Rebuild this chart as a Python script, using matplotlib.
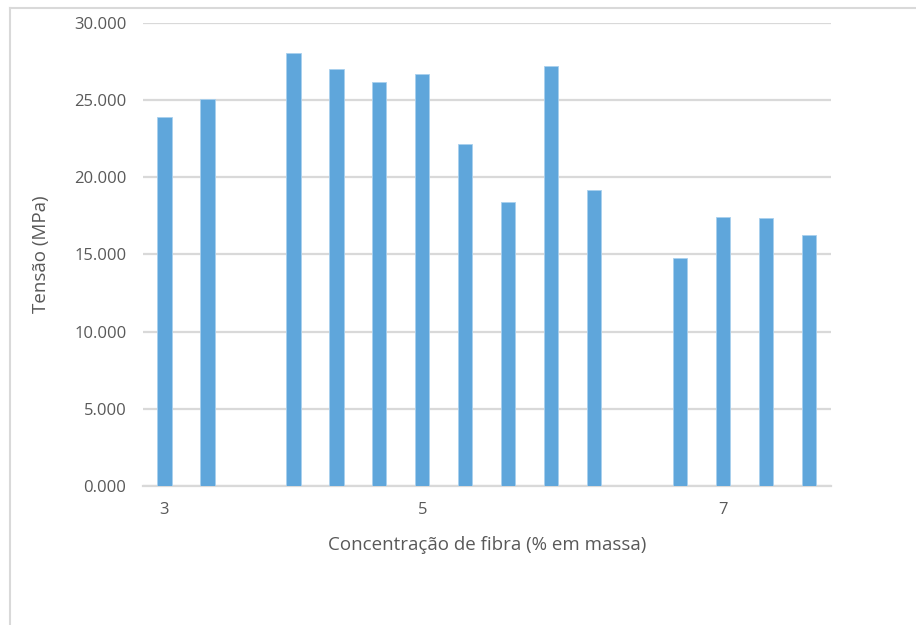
import numpy as np
import matplotlib.pyplot as plt
from matplotlib.lines import Line2D
from matplotlib.ticker import FixedLocator, FuncFormatter

plt.rcParams['font.family'] = ['Open Sans', 'DejaVu Sans']

# Tensile strength per specimen, grouped by fibre concentration (empty slots separate the groups)
slot_labels = ['3', '', '', '', '', '', '5', '', '', '', '', '', '', '7', '', '']
tensao = [23.93, 25.11, None, 28.10, 27.06, 26.20, 26.72, 22.15, 18.41, 27.20,
          19.17, None, 14.80, 17.46, 17.37, 16.29]
y_ticks = [0, 5, 10, 15, 20, 25, 30]

BAR_COLOR = '#5FA6DB'
GRID_COLOR = '#D9D9D9'
TEXT_COLOR = '#595959'

fig = plt.figure(figsize=(9.16, 6.25), dpi=100)
W, H = 916, 625
ax = fig.add_axes([143 / W, (H - 485.7) / H, (830.7 - 143) / W, (485.7 - 23.3) / H])

x = np.arange(len(slot_labels))
present = [i for i, v in enumerate(tensao) if v is not None]
ax.bar(x[present], [tensao[i] for i in present], width=0.33,
       color=BAR_COLOR, edgecolor='#A9D0EE', linewidth=0.6, zorder=3)

ax.set_xlim(-0.5, len(slot_labels) - 0.5)
ax.set_ylim(0, 30)
ax.yaxis.set_major_locator(FixedLocator(y_ticks))
ax.yaxis.set_major_formatter(FuncFormatter(lambda v, _: f'{v:.3f}'))
ax.set_xticks(x)
ax.set_xticklabels(slot_labels)

ax.grid(axis='y', color=GRID_COLOR, linewidth=1.6, zorder=0)
for side in ['top', 'right', 'left']:
    ax.spines[side].set_visible(False)
ax.spines['bottom'].set_color(GRID_COLOR)
ax.spines['bottom'].set_linewidth(1.6)
ax.tick_params(axis='both', length=0, labelsize=12, colors=TEXT_COLOR)
ax.tick_params(axis='y', pad=12)
ax.tick_params(axis='x', pad=12)

ax.set_xlabel('Concentração de fibra (% em massa)', fontsize=13.5, color=TEXT_COLOR,
              labelpad=13)
ax.set_ylabel('Tensão (MPa)', fontsize=13.5, color=TEXT_COLOR, labelpad=17)

# Outer chart frame (left and top edges)
fig.add_artist(Line2D([10 / W, 10 / W], [0, (H - 7.5) / H], transform=fig.transFigure,
                      color=GRID_COLOR, linewidth=1.5))
fig.add_artist(Line2D([10 / W, 1], [(H - 7.5) / H, (H - 7.5) / H], transform=fig.transFigure,
                      color=GRID_COLOR, linewidth=1.5))

fig.savefig('out.png', dpi=100)
